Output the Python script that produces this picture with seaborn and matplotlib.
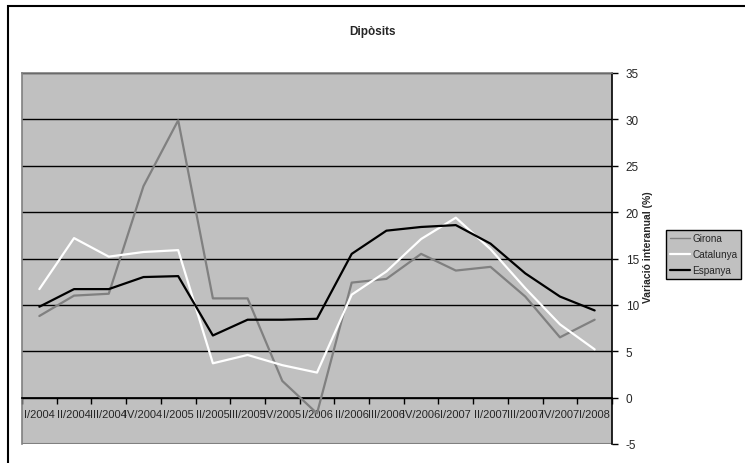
#!/usr/bin/env python3
"""
Dipòsits - variació interanual (%) per trimestre
Girona, Catalunya i Espanya, I/2004 - I/2008
"""

import pandas as pd
import matplotlib.pyplot as plt
import matplotlib.patches as mpatches
from matplotlib.ticker import FixedLocator
import seaborn as sns

quarters = ["I/2004", "II/2004", "III/2004", "IV/2004",
            "I/2005", "II/2005", "III/2005", "IV/2005",
            "I/2006", "II/2006", "III/2006", "IV/2006",
            "I/2007", "II/2007", "III/2007", "IV/2007",
            "I/2008"]

girona = [8.8, 11.0, 11.2, 22.8, 29.9, 10.7, 10.7, 1.8, -1.7,
          12.4, 12.8, 15.5, 13.7, 14.1, 10.9, 6.5, 8.4]
catalunya = [11.7, 17.2, 15.2, 15.7, 15.9, 3.7, 4.6, 3.5, 2.7,
             11.1, 13.6, 17.1, 19.4, 16.0, 11.8, 7.9, 5.2]
espanya = [9.8, 11.7, 11.7, 13.0, 13.1, 6.7, 8.4, 8.4, 8.5,
           15.5, 18.0, 18.4, 18.6, 16.6, 13.4, 10.9, 9.4]

series = {"Girona": girona, "Catalunya": catalunya, "Espanya": espanya}
colors = {"Girona": "#808080", "Catalunya": "#ffffff", "Espanya": "#000000"}

# long format for seaborn
rows = []
for name, vals in series.items():
    for i, v in enumerate(vals):
        rows.append([name, i, v])
df = pd.DataFrame(rows, columns=["Serie", "Pos", "Valor"])

sns.set_theme(style="white")
plt.rcParams["font.family"] = ["Liberation Sans", "DejaVu Sans"]
plt.rcParams["axes.unicode_minus"] = False

fig = plt.figure(figsize=(7.45, 4.64), dpi=100)
ax = fig.add_axes([22 / 745, 1 - 445 / 464, 590 / 745, 371 / 464])

# outer chart frame
fig.patches.append(mpatches.Rectangle((8 / 745, -0.05), 1.0, 1 - 7 / 464 + 0.05,
                                      transform=fig.transFigure, fill=False,
                                      edgecolor="black", linewidth=1.5))

ax.set_facecolor("#c0c0c0")
for y in range(-5, 36, 5):
    ax.axhline(y, color="black", linewidth=1.0, zorder=1)

sns.lineplot(data=df, x="Pos", y="Valor", hue="Serie", palette=colors,
             linewidth=1.6, ax=ax, legend=False, zorder=3)

n = len(quarters)
ax.set_xlim(-0.5, n - 0.5)
ax.set_ylim(-5, 35)

# y axis on the right
ax.yaxis.tick_right()
ax.yaxis.set_label_position("right")
ax.set_yticks(range(-5, 36, 5))
ax.tick_params(axis="y", which="major", direction="out", length=4, width=1,
               color="black", pad=6, labelsize=8.5, right=True, left=False)
ax.set_ylabel("Variació interanual (%)", fontsize=7.5, fontweight="bold")
ax.yaxis.set_label_coords(1.052, 0.534)

# x axis crossing at 0, ticks on category boundaries, labels centred
ax.spines["bottom"].set_position(("data", 0))
ax.spines["bottom"].set_color("black")
ax.xaxis.set_major_locator(FixedLocator([i - 0.5 for i in range(n + 1)]))
ax.xaxis.set_minor_locator(FixedLocator(list(range(n))))
ax.set_xticklabels([], minor=False)
ax.set_xticklabels(quarters, minor=True)
ax.tick_params(axis="x", which="major", direction="out", length=4, width=1,
               color="black", bottom=True)
ax.tick_params(axis="x", which="minor", length=0, pad=8, labelsize=8)
ax.set_xlabel("")

for side in ["left", "top"]:
    ax.spines[side].set_color("#808080")
    ax.spines[side].set_linewidth(1.2)
ax.spines["right"].set_color("black")
ax.spines["right"].set_linewidth(1.2)
ax.axhline(-5, color="#808080", linewidth=1.5, zorder=2)

fig.text(372 / 745, 1 - 32 / 464, "Dipòsits", ha="center", va="center",
         fontsize=8.5, fontweight="bold")

handles = [plt.Line2D([], [], color=colors[k], linewidth=w)
           for k, w in zip(series, [1.0, 1.6, 1.6])]
leg = fig.legend(handles, list(series), loc="upper left",
                 bbox_to_anchor=(666 / 745, 1 - 231 / 464), fontsize=7.2,
                 frameon=True, fancybox=False, handlelength=2.0,
                 borderpad=0.35, borderaxespad=0, labelspacing=0.6,
                 handletextpad=0.3)
leg.get_frame().set_facecolor("#c0c0c0")
leg.get_frame().set_edgecolor("black")
leg.get_frame().set_linewidth(1.0)
leg.get_frame().set_alpha(1)

plt.savefig("out.png", dpi=100)
plt.close()
